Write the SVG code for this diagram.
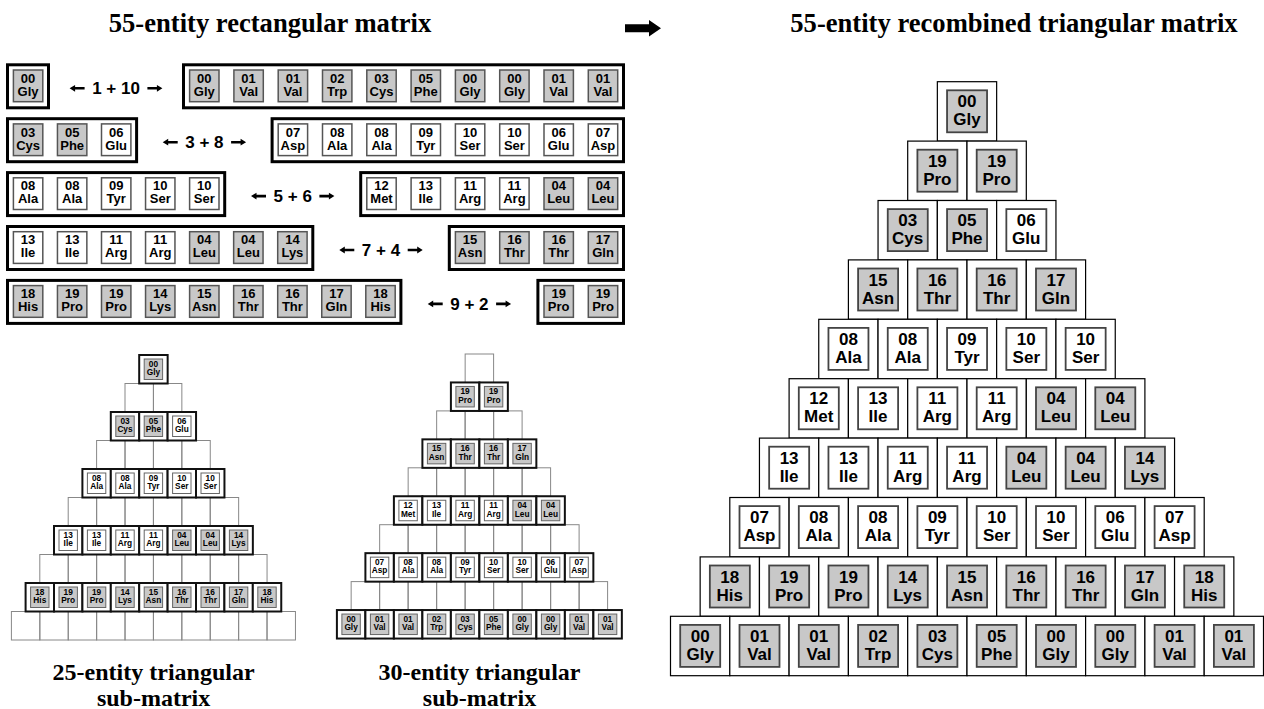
<svg xmlns="http://www.w3.org/2000/svg" xmlns:xlink="http://www.w3.org/1999/xlink" width="1264" height="709" viewBox="0 0 1264 709">
<style>
.ttl{font-family:"Liberation Serif","Times New Roman",serif;font-weight:bold;font-size:26.6px;text-anchor:middle;fill:#000}
.sub{font-family:"Liberation Serif","Times New Roman",serif;font-weight:bold;font-size:24px;text-anchor:middle;fill:#000}
.lab{font-family:"Liberation Sans",Arial,sans-serif;font-weight:bold;font-size:17px;text-anchor:middle;fill:#000}
.t13{font-family:"Liberation Sans",Arial,sans-serif;font-weight:bold;font-size:13px;text-anchor:middle;fill:#000}
.t17{font-family:"Liberation Sans",Arial,sans-serif;font-weight:bold;font-size:17px;text-anchor:middle;fill:#000}
.t8{font-family:"Liberation Sans",Arial,sans-serif;font-weight:bold;font-size:8.3px;text-anchor:middle;fill:#000}
.ob{fill:#fff;stroke:#000;stroke-width:3}
.gf{fill:#c8c8c8}
.wf{fill:#fff}
.ri{stroke:#555;stroke-width:1.5}
.bc{fill:#fff;stroke:#000;stroke-width:1.2}
.bi{stroke:#444;stroke-width:1.8}
.sc{fill:#fff;stroke:#111;stroke-width:2}
.si{stroke:#666;stroke-width:1}
.gr{fill:none;stroke:#888;stroke-width:1}
.ar{fill:#000}
</style>
<defs>
<rect id="RG" class="gf ri" width="29.4" height="31.7"/>
<rect id="RW" class="wf ri" width="29.4" height="31.7"/>
<g id="BG"><rect class="bc" width="59.3" height="59.4"/><rect class="gf bi" x="9.7" y="8.6" width="40" height="42"/></g>
<g id="BW"><rect class="bc" width="59.3" height="59.4"/><rect class="wf bi" x="9.7" y="8.6" width="40" height="42"/></g>
<g id="SG"><rect class="sc" width="28.45" height="28.5"/><rect class="gf si" x="5" y="4" width="18.4" height="20.5"/></g>
<g id="SW"><rect class="sc" width="28.45" height="28.5"/><rect class="wf si" x="5" y="4" width="18.4" height="20.5"/></g>
<rect id="GC" class="gr" width="28.45" height="28.5"/>
<path id="arL" class="ar" d="M0,0 L5.5,-3.4 V-1.3 H15 V1.3 H5.5 V3.4 Z"/>
<path id="arR" class="ar" d="M0,0 L-5.5,-3.4 V-1.3 H-15 V1.3 H-5.5 V3.4 Z"/>
</defs>
<rect width="1264" height="709" fill="#fff"/>

<g id="titles">
<text class="ttl" x="270" y="32">55-entity rectangular matrix</text>
<text class="ttl" x="1014" y="32">55-entity recombined triangular matrix</text>
<path id="main-arrow" d="M625,24.3 H649 V20 L661,28.3 L649,36.6 V32.3 H625 Z" fill="#000"/>
<text class="sub" x="153.6" y="680">25-entity triangular</text>
<text class="sub" x="153.6" y="706">sub-matrix</text>
<text class="sub" x="479.5" y="680">30-entity triangular</text>
<text class="sub" x="479.5" y="706">sub-matrix</text>
</g>

<!-- Rectangular matrix -->
<g id="rect-matrix">
<g id="rm1">
<g id="rm1L"><rect class="ob" x="7.5" y="64.8" width="41" height="43"/>
<g transform="translate(13.4,70)"><use href="#RG"/><text class="t13" x="14.7" y="12.7">00<tspan x="14.7" dy="13">Gly</tspan></text></g>
</g>
<g id="rm1-label"><use href="#arL" x="69.6" y="88.3"/><text class="lab" x="116" y="94.3">1 + 10</text><use href="#arR" x="162.4" y="88.3"/></g>
<g id="rm1R"><rect class="ob" x="183.5" y="64.8" width="440" height="43"/>
<g transform="translate(189.6,70)"><use href="#RG"/><text class="t13" x="14.7" y="12.7">00<tspan x="14.7" dy="13">Gly</tspan></text></g>
<g transform="translate(233.9,70)"><use href="#RG"/><text class="t13" x="14.7" y="12.7">01<tspan x="14.7" dy="13">Val</tspan></text></g>
<g transform="translate(278.2,70)"><use href="#RG"/><text class="t13" x="14.7" y="12.7">01<tspan x="14.7" dy="13">Val</tspan></text></g>
<g transform="translate(322.5,70)"><use href="#RG"/><text class="t13" x="14.7" y="12.7">02<tspan x="14.7" dy="13">Trp</tspan></text></g>
<g transform="translate(366.8,70)"><use href="#RG"/><text class="t13" x="14.7" y="12.7">03<tspan x="14.7" dy="13">Cys</tspan></text></g>
<g transform="translate(411.1,70)"><use href="#RG"/><text class="t13" x="14.7" y="12.7">05<tspan x="14.7" dy="13">Phe</tspan></text></g>
<g transform="translate(455.4,70)"><use href="#RG"/><text class="t13" x="14.7" y="12.7">00<tspan x="14.7" dy="13">Gly</tspan></text></g>
<g transform="translate(499.7,70)"><use href="#RG"/><text class="t13" x="14.7" y="12.7">00<tspan x="14.7" dy="13">Gly</tspan></text></g>
<g transform="translate(544,70)"><use href="#RG"/><text class="t13" x="14.7" y="12.7">01<tspan x="14.7" dy="13">Val</tspan></text></g>
<g transform="translate(588.3,70)"><use href="#RG"/><text class="t13" x="14.7" y="12.7">01<tspan x="14.7" dy="13">Val</tspan></text></g>
</g>
</g>
<g id="rm2">
<g id="rm2L"><rect class="ob" x="7.5" y="118.7" width="129.1" height="43"/>
<g transform="translate(13.4,123.9)"><use href="#RG"/><text class="t13" x="14.7" y="12.7">03<tspan x="14.7" dy="13">Cys</tspan></text></g>
<g transform="translate(57.45,123.9)"><use href="#RG"/><text class="t13" x="14.7" y="12.7">05<tspan x="14.7" dy="13">Phe</tspan></text></g>
<g transform="translate(101.5,123.9)"><use href="#RW"/><text class="t13" x="14.7" y="12.7">06<tspan x="14.7" dy="13">Glu</tspan></text></g>
</g>
<g id="rm2-label"><use href="#arL" x="162.7" y="142.2"/><text class="lab" x="204.4" y="148.2">3 + 8</text><use href="#arR" x="246.1" y="142.2"/></g>
<g id="rm2R"><rect class="ob" x="272.1" y="118.7" width="351.4" height="43"/>
<g transform="translate(278.2,123.9)"><use href="#RW"/><text class="t13" x="14.7" y="12.7">07<tspan x="14.7" dy="13">Asp</tspan></text></g>
<g transform="translate(322.5,123.9)"><use href="#RW"/><text class="t13" x="14.7" y="12.7">08<tspan x="14.7" dy="13">Ala</tspan></text></g>
<g transform="translate(366.8,123.9)"><use href="#RW"/><text class="t13" x="14.7" y="12.7">08<tspan x="14.7" dy="13">Ala</tspan></text></g>
<g transform="translate(411.1,123.9)"><use href="#RW"/><text class="t13" x="14.7" y="12.7">09<tspan x="14.7" dy="13">Tyr</tspan></text></g>
<g transform="translate(455.4,123.9)"><use href="#RW"/><text class="t13" x="14.7" y="12.7">10<tspan x="14.7" dy="13">Ser</tspan></text></g>
<g transform="translate(499.7,123.9)"><use href="#RW"/><text class="t13" x="14.7" y="12.7">10<tspan x="14.7" dy="13">Ser</tspan></text></g>
<g transform="translate(544,123.9)"><use href="#RW"/><text class="t13" x="14.7" y="12.7">06<tspan x="14.7" dy="13">Glu</tspan></text></g>
<g transform="translate(588.3,123.9)"><use href="#RW"/><text class="t13" x="14.7" y="12.7">07<tspan x="14.7" dy="13">Asp</tspan></text></g>
</g>
</g>
<g id="rm3">
<g id="rm3L"><rect class="ob" x="7.5" y="172.6" width="217.2" height="43"/>
<g transform="translate(13.4,177.8)"><use href="#RW"/><text class="t13" x="14.7" y="12.7">08<tspan x="14.7" dy="13">Ala</tspan></text></g>
<g transform="translate(57.45,177.8)"><use href="#RW"/><text class="t13" x="14.7" y="12.7">08<tspan x="14.7" dy="13">Ala</tspan></text></g>
<g transform="translate(101.5,177.8)"><use href="#RW"/><text class="t13" x="14.7" y="12.7">09<tspan x="14.7" dy="13">Tyr</tspan></text></g>
<g transform="translate(145.55,177.8)"><use href="#RW"/><text class="t13" x="14.7" y="12.7">10<tspan x="14.7" dy="13">Ser</tspan></text></g>
<g transform="translate(189.6,177.8)"><use href="#RW"/><text class="t13" x="14.7" y="12.7">10<tspan x="14.7" dy="13">Ser</tspan></text></g>
</g>
<g id="rm3-label"><use href="#arL" x="251" y="196.1"/><text class="lab" x="292.7" y="202.1">5 + 6</text><use href="#arR" x="334.4" y="196.1"/></g>
<g id="rm3R"><rect class="ob" x="360.7" y="172.6" width="262.8" height="43"/>
<g transform="translate(366.8,177.8)"><use href="#RW"/><text class="t13" x="14.7" y="12.7">12<tspan x="14.7" dy="13">Met</tspan></text></g>
<g transform="translate(411.1,177.8)"><use href="#RW"/><text class="t13" x="14.7" y="12.7">13<tspan x="14.7" dy="13">Ile</tspan></text></g>
<g transform="translate(455.4,177.8)"><use href="#RW"/><text class="t13" x="14.7" y="12.7">11<tspan x="14.7" dy="13">Arg</tspan></text></g>
<g transform="translate(499.7,177.8)"><use href="#RW"/><text class="t13" x="14.7" y="12.7">11<tspan x="14.7" dy="13">Arg</tspan></text></g>
<g transform="translate(544,177.8)"><use href="#RG"/><text class="t13" x="14.7" y="12.7">04<tspan x="14.7" dy="13">Leu</tspan></text></g>
<g transform="translate(588.3,177.8)"><use href="#RG"/><text class="t13" x="14.7" y="12.7">04<tspan x="14.7" dy="13">Leu</tspan></text></g>
</g>
</g>
<g id="rm4">
<g id="rm4L"><rect class="ob" x="7.5" y="226.5" width="305.3" height="43"/>
<g transform="translate(13.4,231.7)"><use href="#RW"/><text class="t13" x="14.7" y="12.7">13<tspan x="14.7" dy="13">Ile</tspan></text></g>
<g transform="translate(57.45,231.7)"><use href="#RW"/><text class="t13" x="14.7" y="12.7">13<tspan x="14.7" dy="13">Ile</tspan></text></g>
<g transform="translate(101.5,231.7)"><use href="#RW"/><text class="t13" x="14.7" y="12.7">11<tspan x="14.7" dy="13">Arg</tspan></text></g>
<g transform="translate(145.55,231.7)"><use href="#RW"/><text class="t13" x="14.7" y="12.7">11<tspan x="14.7" dy="13">Arg</tspan></text></g>
<g transform="translate(189.6,231.7)"><use href="#RG"/><text class="t13" x="14.7" y="12.7">04<tspan x="14.7" dy="13">Leu</tspan></text></g>
<g transform="translate(233.65,231.7)"><use href="#RG"/><text class="t13" x="14.7" y="12.7">04<tspan x="14.7" dy="13">Leu</tspan></text></g>
<g transform="translate(277.7,231.7)"><use href="#RG"/><text class="t13" x="14.7" y="12.7">14<tspan x="14.7" dy="13">Lys</tspan></text></g>
</g>
<g id="rm4-label"><use href="#arL" x="339.3" y="250"/><text class="lab" x="381" y="256">7 + 4</text><use href="#arR" x="422.7" y="250"/></g>
<g id="rm4R"><rect class="ob" x="449.3" y="226.5" width="174.2" height="43"/>
<g transform="translate(455.4,231.7)"><use href="#RG"/><text class="t13" x="14.7" y="12.7">15<tspan x="14.7" dy="13">Asn</tspan></text></g>
<g transform="translate(499.7,231.7)"><use href="#RG"/><text class="t13" x="14.7" y="12.7">16<tspan x="14.7" dy="13">Thr</tspan></text></g>
<g transform="translate(544,231.7)"><use href="#RG"/><text class="t13" x="14.7" y="12.7">16<tspan x="14.7" dy="13">Thr</tspan></text></g>
<g transform="translate(588.3,231.7)"><use href="#RG"/><text class="t13" x="14.7" y="12.7">17<tspan x="14.7" dy="13">Gln</tspan></text></g>
</g>
</g>
<g id="rm5">
<g id="rm5L"><rect class="ob" x="7.5" y="280.4" width="393.4" height="43"/>
<g transform="translate(13.4,285.6)"><use href="#RG"/><text class="t13" x="14.7" y="12.7">18<tspan x="14.7" dy="13">His</tspan></text></g>
<g transform="translate(57.45,285.6)"><use href="#RG"/><text class="t13" x="14.7" y="12.7">19<tspan x="14.7" dy="13">Pro</tspan></text></g>
<g transform="translate(101.5,285.6)"><use href="#RG"/><text class="t13" x="14.7" y="12.7">19<tspan x="14.7" dy="13">Pro</tspan></text></g>
<g transform="translate(145.55,285.6)"><use href="#RG"/><text class="t13" x="14.7" y="12.7">14<tspan x="14.7" dy="13">Lys</tspan></text></g>
<g transform="translate(189.6,285.6)"><use href="#RG"/><text class="t13" x="14.7" y="12.7">15<tspan x="14.7" dy="13">Asn</tspan></text></g>
<g transform="translate(233.65,285.6)"><use href="#RG"/><text class="t13" x="14.7" y="12.7">16<tspan x="14.7" dy="13">Thr</tspan></text></g>
<g transform="translate(277.7,285.6)"><use href="#RG"/><text class="t13" x="14.7" y="12.7">16<tspan x="14.7" dy="13">Thr</tspan></text></g>
<g transform="translate(321.75,285.6)"><use href="#RG"/><text class="t13" x="14.7" y="12.7">17<tspan x="14.7" dy="13">Gln</tspan></text></g>
<g transform="translate(365.8,285.6)"><use href="#RG"/><text class="t13" x="14.7" y="12.7">18<tspan x="14.7" dy="13">His</tspan></text></g>
</g>
<g id="rm5-label"><use href="#arL" x="427.7" y="303.9"/><text class="lab" x="469.4" y="309.9">9 + 2</text><use href="#arR" x="511.1" y="303.9"/></g>
<g id="rm5R"><rect class="ob" x="537.9" y="280.4" width="85.6" height="43"/>
<g transform="translate(544,285.6)"><use href="#RG"/><text class="t13" x="14.7" y="12.7">19<tspan x="14.7" dy="13">Pro</tspan></text></g>
<g transform="translate(588.3,285.6)"><use href="#RG"/><text class="t13" x="14.7" y="12.7">19<tspan x="14.7" dy="13">Pro</tspan></text></g>
</g>
</g>
</g>

<!-- Connectors / grid lines of the small triangles -->
<g id="connectors">
<use href="#GC" x="125" y="383.5"/><use href="#GC" x="153.4" y="383.5"/>
<use href="#GC" x="96.6" y="440.5"/><use href="#GC" x="125" y="440.5"/><use href="#GC" x="153.4" y="440.5"/><use href="#GC" x="181.8" y="440.5"/>
<use href="#GC" x="68.2" y="497.5"/><use href="#GC" x="96.6" y="497.5"/><use href="#GC" x="125" y="497.5"/><use href="#GC" x="153.4" y="497.5"/><use href="#GC" x="181.8" y="497.5"/><use href="#GC" x="210.2" y="497.5"/>
<use href="#GC" x="39.8" y="554.5"/><use href="#GC" x="68.2" y="554.5"/><use href="#GC" x="96.6" y="554.5"/><use href="#GC" x="125" y="554.5"/><use href="#GC" x="153.4" y="554.5"/><use href="#GC" x="181.8" y="554.5"/><use href="#GC" x="210.2" y="554.5"/><use href="#GC" x="238.6" y="554.5"/>
<use href="#GC" x="11.4" y="611.5"/><use href="#GC" x="39.8" y="611.5"/><use href="#GC" x="68.2" y="611.5"/><use href="#GC" x="96.6" y="611.5"/><use href="#GC" x="125" y="611.5"/><use href="#GC" x="153.4" y="611.5"/><use href="#GC" x="181.8" y="611.5"/><use href="#GC" x="210.2" y="611.5"/><use href="#GC" x="238.6" y="611.5"/><use href="#GC" x="267" y="611.5"/>

<use href="#GC" x="465.15" y="354"/>
<use href="#GC" x="436.65" y="410.9"/><use href="#GC" x="465.15" y="410.9"/><use href="#GC" x="493.65" y="410.9"/>
<use href="#GC" x="408.15" y="467.8"/><use href="#GC" x="436.65" y="467.8"/><use href="#GC" x="465.15" y="467.8"/><use href="#GC" x="493.65" y="467.8"/><use href="#GC" x="522.15" y="467.8"/>
<use href="#GC" x="379.65" y="524.7"/><use href="#GC" x="408.15" y="524.7"/><use href="#GC" x="436.65" y="524.7"/><use href="#GC" x="465.15" y="524.7"/><use href="#GC" x="493.65" y="524.7"/><use href="#GC" x="522.15" y="524.7"/><use href="#GC" x="550.65" y="524.7"/>
<use href="#GC" x="351.15" y="581.6"/><use href="#GC" x="379.65" y="581.6"/><use href="#GC" x="408.15" y="581.6"/><use href="#GC" x="436.65" y="581.6"/><use href="#GC" x="465.15" y="581.6"/><use href="#GC" x="493.65" y="581.6"/><use href="#GC" x="522.15" y="581.6"/><use href="#GC" x="550.65" y="581.6"/><use href="#GC" x="579.15" y="581.6"/>
</g>

<!-- 25-entity triangular sub-matrix -->
<g id="tri25">
<g id="t25-0-0" transform="translate(139.2,355)"><use href="#SG"/><text class="t8" x="14.2" y="12">00<tspan x="14.2" dy="8.3">Gly</tspan></text></g>
<g id="t25-2-0" transform="translate(110.8,412)"><use href="#SG"/><text class="t8" x="14.2" y="12">03<tspan x="14.2" dy="8.3">Cys</tspan></text></g>
<g id="t25-2-1" transform="translate(139.2,412)"><use href="#SG"/><text class="t8" x="14.2" y="12">05<tspan x="14.2" dy="8.3">Phe</tspan></text></g>
<g id="t25-2-2" transform="translate(167.6,412)"><use href="#SW"/><text class="t8" x="14.2" y="12">06<tspan x="14.2" dy="8.3">Glu</tspan></text></g>
<g id="t25-4-0" transform="translate(82.4,469)"><use href="#SW"/><text class="t8" x="14.2" y="12">08<tspan x="14.2" dy="8.3">Ala</tspan></text></g>
<g id="t25-4-1" transform="translate(110.8,469)"><use href="#SW"/><text class="t8" x="14.2" y="12">08<tspan x="14.2" dy="8.3">Ala</tspan></text></g>
<g id="t25-4-2" transform="translate(139.2,469)"><use href="#SW"/><text class="t8" x="14.2" y="12">09<tspan x="14.2" dy="8.3">Tyr</tspan></text></g>
<g id="t25-4-3" transform="translate(167.6,469)"><use href="#SW"/><text class="t8" x="14.2" y="12">10<tspan x="14.2" dy="8.3">Ser</tspan></text></g>
<g id="t25-4-4" transform="translate(196,469)"><use href="#SW"/><text class="t8" x="14.2" y="12">10<tspan x="14.2" dy="8.3">Ser</tspan></text></g>
<g id="t25-6-0" transform="translate(54,526)"><use href="#SW"/><text class="t8" x="14.2" y="12">13<tspan x="14.2" dy="8.3">Ile</tspan></text></g>
<g id="t25-6-1" transform="translate(82.4,526)"><use href="#SW"/><text class="t8" x="14.2" y="12">13<tspan x="14.2" dy="8.3">Ile</tspan></text></g>
<g id="t25-6-2" transform="translate(110.8,526)"><use href="#SW"/><text class="t8" x="14.2" y="12">11<tspan x="14.2" dy="8.3">Arg</tspan></text></g>
<g id="t25-6-3" transform="translate(139.2,526)"><use href="#SW"/><text class="t8" x="14.2" y="12">11<tspan x="14.2" dy="8.3">Arg</tspan></text></g>
<g id="t25-6-4" transform="translate(167.6,526)"><use href="#SG"/><text class="t8" x="14.2" y="12">04<tspan x="14.2" dy="8.3">Leu</tspan></text></g>
<g id="t25-6-5" transform="translate(196,526)"><use href="#SG"/><text class="t8" x="14.2" y="12">04<tspan x="14.2" dy="8.3">Leu</tspan></text></g>
<g id="t25-6-6" transform="translate(224.4,526)"><use href="#SG"/><text class="t8" x="14.2" y="12">14<tspan x="14.2" dy="8.3">Lys</tspan></text></g>
<g id="t25-8-0" transform="translate(25.6,583)"><use href="#SG"/><text class="t8" x="14.2" y="12">18<tspan x="14.2" dy="8.3">His</tspan></text></g>
<g id="t25-8-1" transform="translate(54,583)"><use href="#SG"/><text class="t8" x="14.2" y="12">19<tspan x="14.2" dy="8.3">Pro</tspan></text></g>
<g id="t25-8-2" transform="translate(82.4,583)"><use href="#SG"/><text class="t8" x="14.2" y="12">19<tspan x="14.2" dy="8.3">Pro</tspan></text></g>
<g id="t25-8-3" transform="translate(110.8,583)"><use href="#SG"/><text class="t8" x="14.2" y="12">14<tspan x="14.2" dy="8.3">Lys</tspan></text></g>
<g id="t25-8-4" transform="translate(139.2,583)"><use href="#SG"/><text class="t8" x="14.2" y="12">15<tspan x="14.2" dy="8.3">Asn</tspan></text></g>
<g id="t25-8-5" transform="translate(167.6,583)"><use href="#SG"/><text class="t8" x="14.2" y="12">16<tspan x="14.2" dy="8.3">Thr</tspan></text></g>
<g id="t25-8-6" transform="translate(196,583)"><use href="#SG"/><text class="t8" x="14.2" y="12">16<tspan x="14.2" dy="8.3">Thr</tspan></text></g>
<g id="t25-8-7" transform="translate(224.4,583)"><use href="#SG"/><text class="t8" x="14.2" y="12">17<tspan x="14.2" dy="8.3">Gln</tspan></text></g>
<g id="t25-8-8" transform="translate(252.8,583)"><use href="#SG"/><text class="t8" x="14.2" y="12">18<tspan x="14.2" dy="8.3">His</tspan></text></g>
</g>

<!-- 30-entity triangular sub-matrix -->
<g id="tri30">
<g id="t30-1-0" transform="translate(450.9,382.45)"><use href="#SG"/><text class="t8" x="14.2" y="12">19<tspan x="14.2" dy="8.3">Pro</tspan></text></g>
<g id="t30-1-1" transform="translate(479.4,382.45)"><use href="#SG"/><text class="t8" x="14.2" y="12">19<tspan x="14.2" dy="8.3">Pro</tspan></text></g>
<g id="t30-3-0" transform="translate(422.4,439.35)"><use href="#SG"/><text class="t8" x="14.2" y="12">15<tspan x="14.2" dy="8.3">Asn</tspan></text></g>
<g id="t30-3-1" transform="translate(450.9,439.35)"><use href="#SG"/><text class="t8" x="14.2" y="12">16<tspan x="14.2" dy="8.3">Thr</tspan></text></g>
<g id="t30-3-2" transform="translate(479.4,439.35)"><use href="#SG"/><text class="t8" x="14.2" y="12">16<tspan x="14.2" dy="8.3">Thr</tspan></text></g>
<g id="t30-3-3" transform="translate(507.9,439.35)"><use href="#SG"/><text class="t8" x="14.2" y="12">17<tspan x="14.2" dy="8.3">Gln</tspan></text></g>
<g id="t30-5-0" transform="translate(393.9,496.25)"><use href="#SW"/><text class="t8" x="14.2" y="12">12<tspan x="14.2" dy="8.3">Met</tspan></text></g>
<g id="t30-5-1" transform="translate(422.4,496.25)"><use href="#SW"/><text class="t8" x="14.2" y="12">13<tspan x="14.2" dy="8.3">Ile</tspan></text></g>
<g id="t30-5-2" transform="translate(450.9,496.25)"><use href="#SW"/><text class="t8" x="14.2" y="12">11<tspan x="14.2" dy="8.3">Arg</tspan></text></g>
<g id="t30-5-3" transform="translate(479.4,496.25)"><use href="#SW"/><text class="t8" x="14.2" y="12">11<tspan x="14.2" dy="8.3">Arg</tspan></text></g>
<g id="t30-5-4" transform="translate(507.9,496.25)"><use href="#SG"/><text class="t8" x="14.2" y="12">04<tspan x="14.2" dy="8.3">Leu</tspan></text></g>
<g id="t30-5-5" transform="translate(536.4,496.25)"><use href="#SG"/><text class="t8" x="14.2" y="12">04<tspan x="14.2" dy="8.3">Leu</tspan></text></g>
<g id="t30-7-0" transform="translate(365.4,553.15)"><use href="#SW"/><text class="t8" x="14.2" y="12">07<tspan x="14.2" dy="8.3">Asp</tspan></text></g>
<g id="t30-7-1" transform="translate(393.9,553.15)"><use href="#SW"/><text class="t8" x="14.2" y="12">08<tspan x="14.2" dy="8.3">Ala</tspan></text></g>
<g id="t30-7-2" transform="translate(422.4,553.15)"><use href="#SW"/><text class="t8" x="14.2" y="12">08<tspan x="14.2" dy="8.3">Ala</tspan></text></g>
<g id="t30-7-3" transform="translate(450.9,553.15)"><use href="#SW"/><text class="t8" x="14.2" y="12">09<tspan x="14.2" dy="8.3">Tyr</tspan></text></g>
<g id="t30-7-4" transform="translate(479.4,553.15)"><use href="#SW"/><text class="t8" x="14.2" y="12">10<tspan x="14.2" dy="8.3">Ser</tspan></text></g>
<g id="t30-7-5" transform="translate(507.9,553.15)"><use href="#SW"/><text class="t8" x="14.2" y="12">10<tspan x="14.2" dy="8.3">Ser</tspan></text></g>
<g id="t30-7-6" transform="translate(536.4,553.15)"><use href="#SW"/><text class="t8" x="14.2" y="12">06<tspan x="14.2" dy="8.3">Glu</tspan></text></g>
<g id="t30-7-7" transform="translate(564.9,553.15)"><use href="#SW"/><text class="t8" x="14.2" y="12">07<tspan x="14.2" dy="8.3">Asp</tspan></text></g>
<g id="t30-9-0" transform="translate(336.9,610.05)"><use href="#SG"/><text class="t8" x="14.2" y="12">00<tspan x="14.2" dy="8.3">Gly</tspan></text></g>
<g id="t30-9-1" transform="translate(365.4,610.05)"><use href="#SG"/><text class="t8" x="14.2" y="12">01<tspan x="14.2" dy="8.3">Val</tspan></text></g>
<g id="t30-9-2" transform="translate(393.9,610.05)"><use href="#SG"/><text class="t8" x="14.2" y="12">01<tspan x="14.2" dy="8.3">Val</tspan></text></g>
<g id="t30-9-3" transform="translate(422.4,610.05)"><use href="#SG"/><text class="t8" x="14.2" y="12">02<tspan x="14.2" dy="8.3">Trp</tspan></text></g>
<g id="t30-9-4" transform="translate(450.9,610.05)"><use href="#SG"/><text class="t8" x="14.2" y="12">03<tspan x="14.2" dy="8.3">Cys</tspan></text></g>
<g id="t30-9-5" transform="translate(479.4,610.05)"><use href="#SG"/><text class="t8" x="14.2" y="12">05<tspan x="14.2" dy="8.3">Phe</tspan></text></g>
<g id="t30-9-6" transform="translate(507.9,610.05)"><use href="#SG"/><text class="t8" x="14.2" y="12">00<tspan x="14.2" dy="8.3">Gly</tspan></text></g>
<g id="t30-9-7" transform="translate(536.4,610.05)"><use href="#SG"/><text class="t8" x="14.2" y="12">00<tspan x="14.2" dy="8.3">Gly</tspan></text></g>
<g id="t30-9-8" transform="translate(564.9,610.05)"><use href="#SG"/><text class="t8" x="14.2" y="12">01<tspan x="14.2" dy="8.3">Val</tspan></text></g>
<g id="t30-9-9" transform="translate(593.4,610.05)"><use href="#SG"/><text class="t8" x="14.2" y="12">01<tspan x="14.2" dy="8.3">Val</tspan></text></g>
</g>

<!-- 55-entity recombined triangular matrix -->
<g id="tri55">
<g id="b0-0" transform="translate(937.35,81.7)"><use href="#BG"/><text class="t17" x="29.65" y="25.7">00<tspan x="29.65" dy="18">Gly</tspan></text></g>
<g id="b1-0" transform="translate(907.7,141.1)"><use href="#BG"/><text class="t17" x="29.65" y="25.7">19<tspan x="29.65" dy="18">Pro</tspan></text></g>
<g id="b1-1" transform="translate(967,141.1)"><use href="#BG"/><text class="t17" x="29.65" y="25.7">19<tspan x="29.65" dy="18">Pro</tspan></text></g>
<g id="b2-0" transform="translate(878.05,200.5)"><use href="#BG"/><text class="t17" x="29.65" y="25.7">03<tspan x="29.65" dy="18">Cys</tspan></text></g>
<g id="b2-1" transform="translate(937.35,200.5)"><use href="#BG"/><text class="t17" x="29.65" y="25.7">05<tspan x="29.65" dy="18">Phe</tspan></text></g>
<g id="b2-2" transform="translate(996.65,200.5)"><use href="#BW"/><text class="t17" x="29.65" y="25.7">06<tspan x="29.65" dy="18">Glu</tspan></text></g>
<g id="b3-0" transform="translate(848.4,259.9)"><use href="#BG"/><text class="t17" x="29.65" y="25.7">15<tspan x="29.65" dy="18">Asn</tspan></text></g>
<g id="b3-1" transform="translate(907.7,259.9)"><use href="#BG"/><text class="t17" x="29.65" y="25.7">16<tspan x="29.65" dy="18">Thr</tspan></text></g>
<g id="b3-2" transform="translate(967,259.9)"><use href="#BG"/><text class="t17" x="29.65" y="25.7">16<tspan x="29.65" dy="18">Thr</tspan></text></g>
<g id="b3-3" transform="translate(1026.3,259.9)"><use href="#BG"/><text class="t17" x="29.65" y="25.7">17<tspan x="29.65" dy="18">Gln</tspan></text></g>
<g id="b4-0" transform="translate(818.75,319.3)"><use href="#BW"/><text class="t17" x="29.65" y="25.7">08<tspan x="29.65" dy="18">Ala</tspan></text></g>
<g id="b4-1" transform="translate(878.05,319.3)"><use href="#BW"/><text class="t17" x="29.65" y="25.7">08<tspan x="29.65" dy="18">Ala</tspan></text></g>
<g id="b4-2" transform="translate(937.35,319.3)"><use href="#BW"/><text class="t17" x="29.65" y="25.7">09<tspan x="29.65" dy="18">Tyr</tspan></text></g>
<g id="b4-3" transform="translate(996.65,319.3)"><use href="#BW"/><text class="t17" x="29.65" y="25.7">10<tspan x="29.65" dy="18">Ser</tspan></text></g>
<g id="b4-4" transform="translate(1055.95,319.3)"><use href="#BW"/><text class="t17" x="29.65" y="25.7">10<tspan x="29.65" dy="18">Ser</tspan></text></g>
<g id="b5-0" transform="translate(789.1,378.7)"><use href="#BW"/><text class="t17" x="29.65" y="25.7">12<tspan x="29.65" dy="18">Met</tspan></text></g>
<g id="b5-1" transform="translate(848.4,378.7)"><use href="#BW"/><text class="t17" x="29.65" y="25.7">13<tspan x="29.65" dy="18">Ile</tspan></text></g>
<g id="b5-2" transform="translate(907.7,378.7)"><use href="#BW"/><text class="t17" x="29.65" y="25.7">11<tspan x="29.65" dy="18">Arg</tspan></text></g>
<g id="b5-3" transform="translate(967,378.7)"><use href="#BW"/><text class="t17" x="29.65" y="25.7">11<tspan x="29.65" dy="18">Arg</tspan></text></g>
<g id="b5-4" transform="translate(1026.3,378.7)"><use href="#BG"/><text class="t17" x="29.65" y="25.7">04<tspan x="29.65" dy="18">Leu</tspan></text></g>
<g id="b5-5" transform="translate(1085.6,378.7)"><use href="#BG"/><text class="t17" x="29.65" y="25.7">04<tspan x="29.65" dy="18">Leu</tspan></text></g>
<g id="b6-0" transform="translate(759.45,438.1)"><use href="#BW"/><text class="t17" x="29.65" y="25.7">13<tspan x="29.65" dy="18">Ile</tspan></text></g>
<g id="b6-1" transform="translate(818.75,438.1)"><use href="#BW"/><text class="t17" x="29.65" y="25.7">13<tspan x="29.65" dy="18">Ile</tspan></text></g>
<g id="b6-2" transform="translate(878.05,438.1)"><use href="#BW"/><text class="t17" x="29.65" y="25.7">11<tspan x="29.65" dy="18">Arg</tspan></text></g>
<g id="b6-3" transform="translate(937.35,438.1)"><use href="#BW"/><text class="t17" x="29.65" y="25.7">11<tspan x="29.65" dy="18">Arg</tspan></text></g>
<g id="b6-4" transform="translate(996.65,438.1)"><use href="#BG"/><text class="t17" x="29.65" y="25.7">04<tspan x="29.65" dy="18">Leu</tspan></text></g>
<g id="b6-5" transform="translate(1055.95,438.1)"><use href="#BG"/><text class="t17" x="29.65" y="25.7">04<tspan x="29.65" dy="18">Leu</tspan></text></g>
<g id="b6-6" transform="translate(1115.25,438.1)"><use href="#BG"/><text class="t17" x="29.65" y="25.7">14<tspan x="29.65" dy="18">Lys</tspan></text></g>
<g id="b7-0" transform="translate(729.8,497.5)"><use href="#BW"/><text class="t17" x="29.65" y="25.7">07<tspan x="29.65" dy="18">Asp</tspan></text></g>
<g id="b7-1" transform="translate(789.1,497.5)"><use href="#BW"/><text class="t17" x="29.65" y="25.7">08<tspan x="29.65" dy="18">Ala</tspan></text></g>
<g id="b7-2" transform="translate(848.4,497.5)"><use href="#BW"/><text class="t17" x="29.65" y="25.7">08<tspan x="29.65" dy="18">Ala</tspan></text></g>
<g id="b7-3" transform="translate(907.7,497.5)"><use href="#BW"/><text class="t17" x="29.65" y="25.7">09<tspan x="29.65" dy="18">Tyr</tspan></text></g>
<g id="b7-4" transform="translate(967,497.5)"><use href="#BW"/><text class="t17" x="29.65" y="25.7">10<tspan x="29.65" dy="18">Ser</tspan></text></g>
<g id="b7-5" transform="translate(1026.3,497.5)"><use href="#BW"/><text class="t17" x="29.65" y="25.7">10<tspan x="29.65" dy="18">Ser</tspan></text></g>
<g id="b7-6" transform="translate(1085.6,497.5)"><use href="#BW"/><text class="t17" x="29.65" y="25.7">06<tspan x="29.65" dy="18">Glu</tspan></text></g>
<g id="b7-7" transform="translate(1144.9,497.5)"><use href="#BW"/><text class="t17" x="29.65" y="25.7">07<tspan x="29.65" dy="18">Asp</tspan></text></g>
<g id="b8-0" transform="translate(700.15,556.9)"><use href="#BG"/><text class="t17" x="29.65" y="25.7">18<tspan x="29.65" dy="18">His</tspan></text></g>
<g id="b8-1" transform="translate(759.45,556.9)"><use href="#BG"/><text class="t17" x="29.65" y="25.7">19<tspan x="29.65" dy="18">Pro</tspan></text></g>
<g id="b8-2" transform="translate(818.75,556.9)"><use href="#BG"/><text class="t17" x="29.65" y="25.7">19<tspan x="29.65" dy="18">Pro</tspan></text></g>
<g id="b8-3" transform="translate(878.05,556.9)"><use href="#BG"/><text class="t17" x="29.65" y="25.7">14<tspan x="29.65" dy="18">Lys</tspan></text></g>
<g id="b8-4" transform="translate(937.35,556.9)"><use href="#BG"/><text class="t17" x="29.65" y="25.7">15<tspan x="29.65" dy="18">Asn</tspan></text></g>
<g id="b8-5" transform="translate(996.65,556.9)"><use href="#BG"/><text class="t17" x="29.65" y="25.7">16<tspan x="29.65" dy="18">Thr</tspan></text></g>
<g id="b8-6" transform="translate(1055.95,556.9)"><use href="#BG"/><text class="t17" x="29.65" y="25.7">16<tspan x="29.65" dy="18">Thr</tspan></text></g>
<g id="b8-7" transform="translate(1115.25,556.9)"><use href="#BG"/><text class="t17" x="29.65" y="25.7">17<tspan x="29.65" dy="18">Gln</tspan></text></g>
<g id="b8-8" transform="translate(1174.55,556.9)"><use href="#BG"/><text class="t17" x="29.65" y="25.7">18<tspan x="29.65" dy="18">His</tspan></text></g>
<g id="b9-0" transform="translate(670.5,616.3)"><use href="#BG"/><text class="t17" x="29.65" y="25.7">00<tspan x="29.65" dy="18">Gly</tspan></text></g>
<g id="b9-1" transform="translate(729.8,616.3)"><use href="#BG"/><text class="t17" x="29.65" y="25.7">01<tspan x="29.65" dy="18">Val</tspan></text></g>
<g id="b9-2" transform="translate(789.1,616.3)"><use href="#BG"/><text class="t17" x="29.65" y="25.7">01<tspan x="29.65" dy="18">Val</tspan></text></g>
<g id="b9-3" transform="translate(848.4,616.3)"><use href="#BG"/><text class="t17" x="29.65" y="25.7">02<tspan x="29.65" dy="18">Trp</tspan></text></g>
<g id="b9-4" transform="translate(907.7,616.3)"><use href="#BG"/><text class="t17" x="29.65" y="25.7">03<tspan x="29.65" dy="18">Cys</tspan></text></g>
<g id="b9-5" transform="translate(967,616.3)"><use href="#BG"/><text class="t17" x="29.65" y="25.7">05<tspan x="29.65" dy="18">Phe</tspan></text></g>
<g id="b9-6" transform="translate(1026.3,616.3)"><use href="#BG"/><text class="t17" x="29.65" y="25.7">00<tspan x="29.65" dy="18">Gly</tspan></text></g>
<g id="b9-7" transform="translate(1085.6,616.3)"><use href="#BG"/><text class="t17" x="29.65" y="25.7">00<tspan x="29.65" dy="18">Gly</tspan></text></g>
<g id="b9-8" transform="translate(1144.9,616.3)"><use href="#BG"/><text class="t17" x="29.65" y="25.7">01<tspan x="29.65" dy="18">Val</tspan></text></g>
<g id="b9-9" transform="translate(1204.2,616.3)"><use href="#BG"/><text class="t17" x="29.65" y="25.7">01<tspan x="29.65" dy="18">Val</tspan></text></g>
</g>
</svg>
